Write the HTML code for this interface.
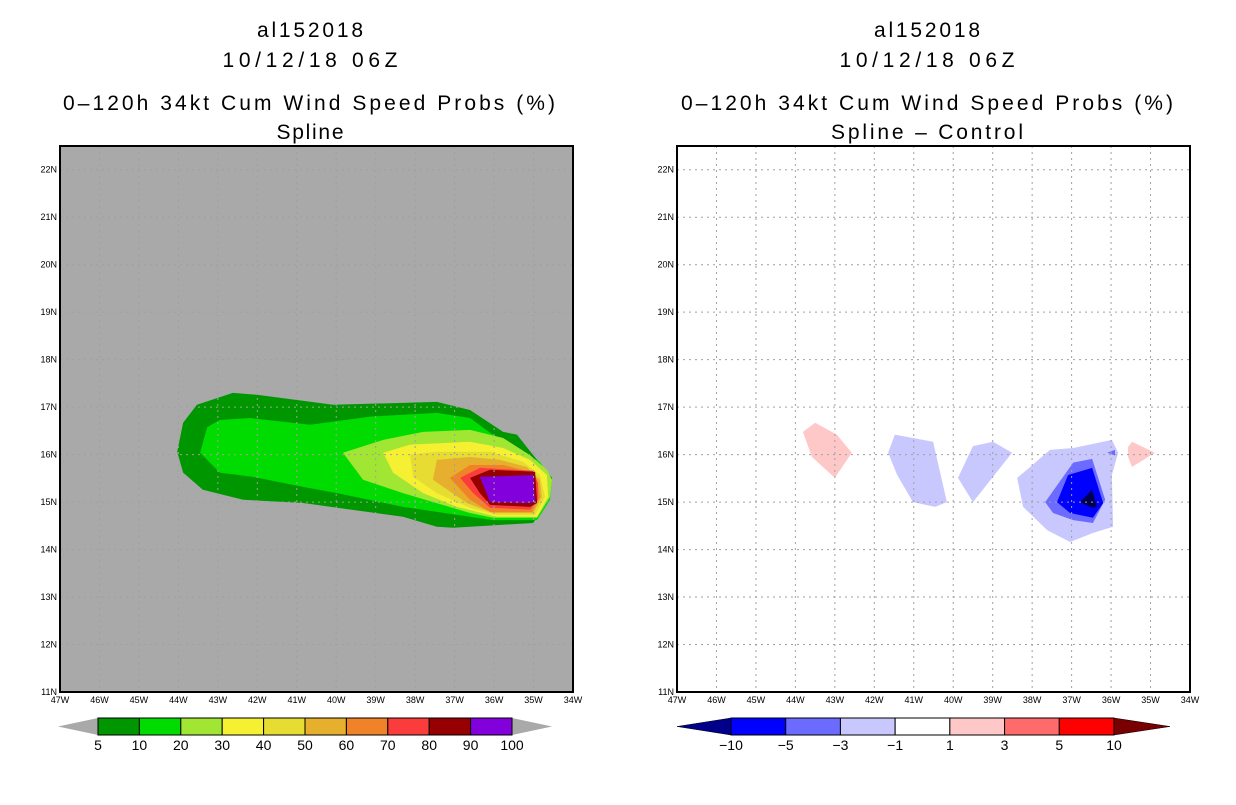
<!DOCTYPE html>
<html><head><meta charset="utf-8"><style>
body{margin:0;background:#fff;width:1236px;height:800px;overflow:hidden;font-family:"Liberation Sans",sans-serif}
</style></head><body>
<svg id="svg" width="1236" height="800" xmlns="http://www.w3.org/2000/svg">
<g font-family="Liberation Sans, sans-serif" font-size="21" text-anchor="middle" fill="#000" lengthAdjust="spacing">
<text x="310" y="37" textLength="106">al152018</text>
<text x="310" y="67" textLength="175">10/12/18 06Z</text>
<text x="309" y="110" textLength="492">0–120h 34kt Cum Wind Speed Probs (%)</text>
<text x="310" y="139" textLength="67">Spline</text>
<text x="927" y="37" textLength="106">al152018</text>
<text x="927" y="67" textLength="175">10/12/18 06Z</text>
<text x="927" y="110" textLength="492">0–120h 34kt Cum Wind Speed Probs (%)</text>
<text x="927" y="139" textLength="192">Spline – Control</text>
</g>
<g id="left"></g>
<g id="right"></g>
<g id="cbars"></g>
</svg>
<script>
const lonTicks=[-47,-46,-45,-44,-43,-42,-41,-40,-39,-38,-37,-36,-35,-34];
const latTicks=[11,12,13,14,15,16,17,18,19,20,21,22];
const leftLevels=[5,10,20,30,40,50,60,70,80,90,100];
const leftColors=["#009600","#00dc00","#a0e632","#f5f032","#e6dc32","#e6af2d","#f08228","#fa3c3c","#960000","#8200dc"];
const rightLevels=[-10,-5,-3,-1,1,3,5,10];
const rightColors=["#0000ff","#6b6bff","#c8c8ff","#ffffff","#ffc8c8","#ff6b6b","#ff0000"];
const leftPolys=[
 {c:"#009600",p:[[-44.03,16.06],[-43.88,16.67],[-43.53,17.05],[-42.62,17.30],[-42.01,17.26],[-40.08,17.05],[-38.31,17.09],[-37.45,17.11],[-36.61,16.94],[-35.77,16.48],[-35.42,16.42],[-35.01,15.99],[-34.53,15.51],[-34.58,15.11],[-35.01,14.56],[-36.61,14.48],[-37.04,14.46],[-37.45,14.48],[-38.31,14.69],[-40.84,14.98],[-42.36,15.05],[-43.38,15.26],[-43.88,15.62]]},
 {c:"#00dc00",p:[[-43.45,16.04],[-43.27,16.58],[-42.95,16.73],[-42.18,16.77],[-40.66,16.63],[-39.14,16.80],[-37.45,16.88],[-36.61,16.77],[-36.10,16.46],[-35.27,16.04],[-34.84,15.85],[-34.53,15.47],[-34.58,15.05],[-34.91,14.62],[-36.03,14.62],[-36.61,14.69],[-38.31,14.90],[-39.98,15.19],[-40.84,15.32],[-42.11,15.53],[-42.95,15.62]]},
 {c:"#a0e632",p:[[-39.83,16.04],[-38.81,16.31],[-37.80,16.48],[-36.61,16.52],[-35.77,16.35],[-35.09,15.99],[-34.66,15.68],[-34.53,15.47],[-34.58,15.11],[-34.91,14.67],[-36.03,14.67],[-36.61,14.77],[-38.31,15.19],[-39.32,15.47]]},
 {c:"#f5f032",p:[[-38.81,16.04],[-38.13,16.21],[-36.61,16.27],[-35.77,16.14],[-35.09,15.89],[-34.66,15.57],[-34.63,15.11],[-34.91,14.69],[-35.93,14.69],[-36.94,14.90],[-37.80,15.19],[-38.56,15.62]]},
 {c:"#e6dc32",p:[[-38.13,16.00],[-37.45,16.06],[-36.10,16.06],[-35.27,15.85],[-34.84,15.57],[-34.71,15.11],[-34.96,14.73],[-35.93,14.73],[-36.61,14.88],[-37.45,15.19],[-38.05,15.53]]},
 {c:"#e6af2d",p:[[-37.45,15.89],[-36.61,15.95],[-35.85,15.89],[-35.17,15.74],[-34.84,15.47],[-34.79,15.11],[-35.01,14.77],[-36.03,14.77],[-36.69,14.98],[-37.55,15.47]]},
 {c:"#f08228",p:[[-37.12,15.51],[-36.61,15.78],[-35.77,15.78],[-35.09,15.64],[-34.89,15.40],[-34.84,15.11],[-35.04,14.79],[-36.10,14.79],[-36.61,15.05]]},
 {c:"#fa3c3c",p:[[-36.86,15.51],[-36.36,15.72],[-35.01,15.66],[-34.89,15.40],[-34.89,15.05],[-35.09,14.84],[-36.10,14.88],[-36.53,15.19]]},
 {c:"#960000",p:[[-36.61,15.51],[-36.10,15.68],[-34.96,15.64],[-34.91,14.98],[-35.09,14.90],[-36.10,14.94],[-36.36,15.19]]},
 {c:"#8200dc",p:[[-36.36,15.53],[-35.01,15.57],[-34.96,15.00],[-35.17,14.98],[-36.10,15.00]]}
];
const rightPolys=[
 {c:"#ffc8c8",p:[[-43.81,16.48],[-43.50,16.67],[-42.95,16.42],[-42.57,16.04],[-43.00,15.51],[-43.58,15.95]]},
 {c:"#c8c8ff",p:[[-41.65,16.04],[-41.48,16.42],[-40.51,16.27],[-40.16,15.00],[-40.46,14.90],[-41.02,15.00],[-41.42,15.57]]},
 {c:"#c8c8ff",p:[[-39.88,15.51],[-39.50,16.18],[-38.99,16.27],[-38.51,16.04],[-39.50,15.00]]},
 {c:"#c8c8ff",p:[[-38.38,15.51],[-38.05,15.74],[-37.55,16.10],[-36.96,16.14],[-36.20,16.27],[-35.98,16.31],[-35.82,16.04],[-35.98,15.57],[-35.95,14.48],[-36.46,14.35],[-37.04,14.16],[-37.62,14.41],[-38.23,14.90]]},
 {c:"#6b6bff",p:[[-37.67,15.00],[-36.96,15.83],[-36.48,15.91],[-36.15,15.05],[-36.46,14.56],[-36.96,14.62],[-37.47,14.77]]},
 {c:"#6b6bff",p:[[-36.10,16.04],[-35.90,16.10],[-35.90,15.98]]},
 {c:"#0000ff",p:[[-37.37,15.00],[-37.09,15.57],[-36.48,15.72],[-36.20,14.98],[-36.46,14.67],[-37.04,14.77]]},
 {c:"#000050",p:[[-36.79,15.00],[-36.48,15.26],[-36.36,14.90],[-36.48,14.88]]},
 {c:"#ffc8c8",p:[[-35.57,16.16],[-35.47,16.27],[-34.89,16.04],[-35.47,15.74],[-35.57,15.95]]}
];
const NS="http://www.w3.org/2000/svg";
const Y0=146,Y1=692,LAT0=11,LAT1=22.5,LON0=-47,LON1=-34,W=513;
function mk(t,a,parent){const e=document.createElementNS(NS,t);for(const k in a)e.setAttribute(k,a[k]);parent.appendChild(e);return e;}
function drawPanel(g,x0,bg,polys){
 const xs=lon=>x0+(lon-LON0)/(LON1-LON0)*W;
 const ys=lat=>Y1-(lat-LAT0)/(LAT1-LAT0)*(Y1-Y0);
 const r=mk('rect',{x:x0,y:Y0,width:W,height:Y1-Y0,fill:bg},g);
 
 
 polys.forEach(pp=>{
  const p=mk('polygon',{points:pp.p.map(q=>xs(q[0])+','+ys(q[1])).join(' '),fill:pp.c},g);
  
  
 });
 lonTicks.forEach((l,i)=>{
  const x=xs(l);
  if(i>0&&i<lonTicks.length-1){const ln=mk('line',{x1:x,x2:x,y1:Y0,y2:Y1,stroke:'#a0a0a0','stroke-dasharray':'2,4','stroke-width':1},g);
  
  }
  const t=mk('text',{x:x,y:Y1+11,'font-size':9,'text-anchor':'middle'},g);
  t.textContent=(-l)+'W';
  
  
 });
 latTicks.forEach((l,i)=>{
  const y=ys(l);
  if(i>0){const ln=mk('line',{x1:x0,x2:x0+W,y1:y,y2:y,stroke:'#a0a0a0','stroke-dasharray':'2,4','stroke-width':1},g);
  
  }
  const t=mk('text',{x:x0-3,y:y+3,'font-size':9,'text-anchor':'end'},g);
  t.textContent=l+'N';
  
  
 });
 const f=mk('rect',{x:x0,y:Y0,width:W,height:Y1-Y0,fill:'none',stroke:'#000','stroke-width':2},g);
 
 
}
drawPanel(document.getElementById('left'),60,'#a9a9a9',leftPolys);
drawPanel(document.getElementById('right'),677,'#ffffff',rightPolys);
function drawBar(g,tipL,x0,x1,tipR,colors,levels,lc,rc,name){
 const y=718,h=17,n=colors.length,bw=(x1-x0)/n;
 const tl=mk('polygon',{points:`${tipL},${y+h/2} ${x0},${y} ${x0},${y+h}`,fill:lc,stroke:lc==='#a9a9a9'?'none':'#000','stroke-width':0.5},g);
 
 
 const tr=mk('polygon',{points:`${tipR},${y+h/2} ${x1},${y} ${x1},${y+h}`,fill:rc,stroke:rc==='#a9a9a9'?'none':'#000','stroke-width':0.5},g);
 
 
 colors.forEach((c,i)=>{
  const r=mk('rect',{x:x0+i*bw,y:y,width:bw,height:h,fill:c,stroke:'#000','stroke-width':1},g);
  
  
 });
 levels.forEach((v,i)=>{
  const t=mk('text',{x:x0+i*bw,y:y+h+15,'font-size':14,'text-anchor':'middle'},g);
  t.textContent=v<0?'−'+(-v):v;
  
  
 });
}
const cb=document.getElementById('cbars');
drawBar(cb,58,98,512,552,leftColors,leftLevels,'#a9a9a9','#a9a9a9','left-colorbar');
drawBar(cb,677,731,1114,1170,rightColors,rightLevels,'#00008b','#780000','right-colorbar');
</script>
</body></html>
